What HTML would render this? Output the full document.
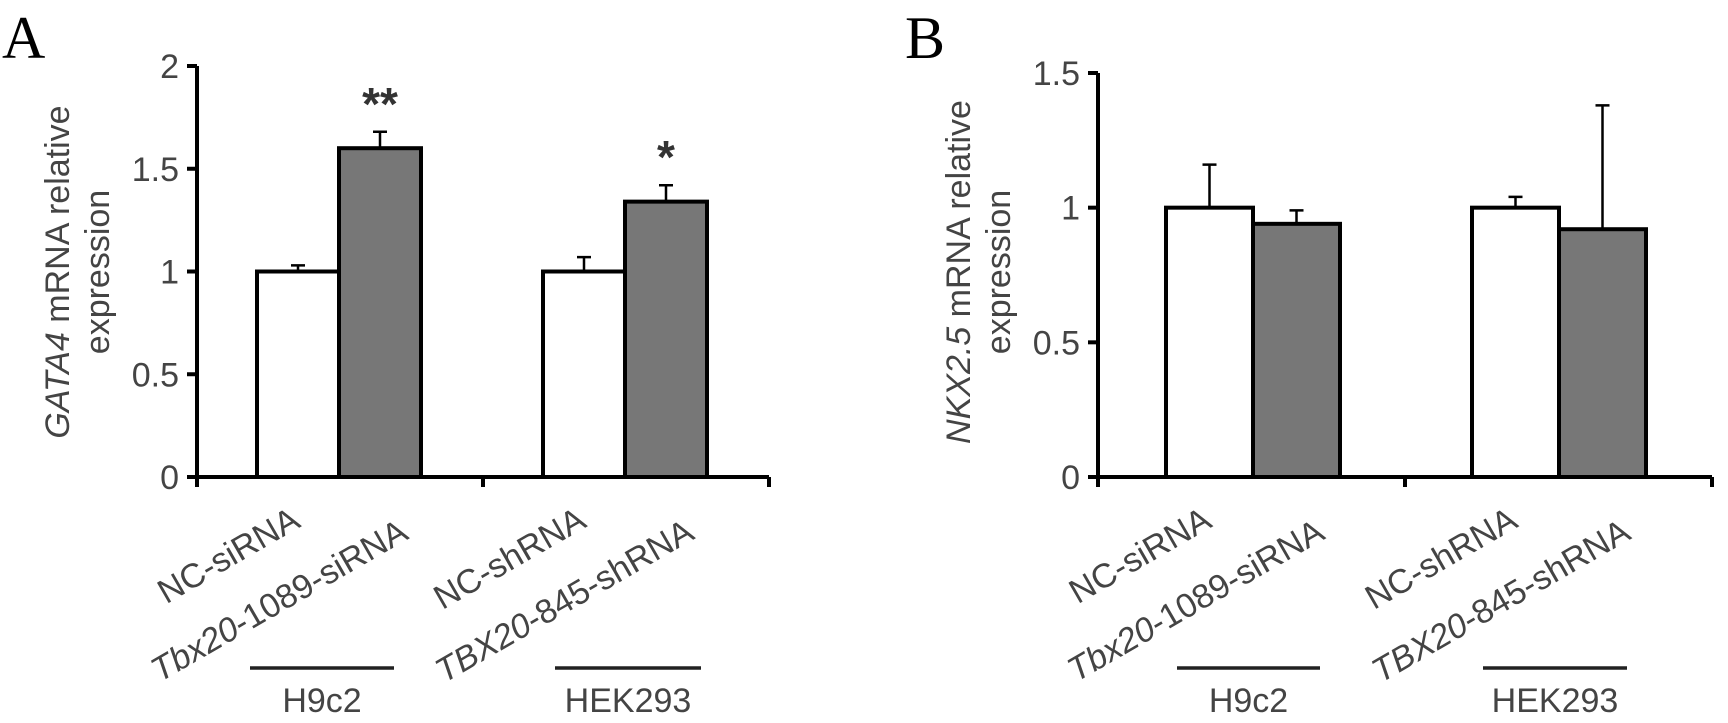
<!DOCTYPE html>
<html><head><meta charset="utf-8"><style>
html,body{margin:0;padding:0;background:#fff;}
svg{display:block;font-family:"Liberation Sans",Arial,sans-serif;}
</style></head><body>
<svg id="fig" width="1728" height="723" viewBox="0 0 1728 723" xmlns="http://www.w3.org/2000/svg">
<text x="2" y="58" font-family="Liberation Serif,serif" font-size="60" fill="#000">A</text>
<text x="905" y="58" font-family="Liberation Serif,serif" font-size="60" fill="#000">B</text>
<g id="pa"></g>
<g id="pb"></g>
</svg>
<script>
const categories = ["NC-siRNA","Tbx20-1089-siRNA","NC-shRNA","TBX20-845-shRNA"];
const italicPrefix = ["","Tbx20","","TBX20"];
const groups = ["H9c2","HEK293"];
const gataValues = [1.0, 1.60, 1.0, 1.34];
const gataErrors = [0.03, 0.08, 0.07, 0.08];
const gataStars = ["","**","","*"];
const gataTicks = [0,0.5,1,1.5,2];
const nkxValues = [1.0, 0.94, 1.0, 0.92];
const nkxErrors = [0.16, 0.05, 0.04, 0.46];
const nkxStars = ["","","",""];
const nkxTicks = [0,0.5,1,1.5];

const NS="http://www.w3.org/2000/svg";
const FS=34;
function mk(parent,tag,attrs){const e=document.createElementNS(NS,tag);for(const k in attrs)e.setAttribute(k,attrs[k]);parent.appendChild(e);return e;}

function drawPanel(g, cfg, values, errors, stars, ticks){
  const y0=477, ytop=cfg.ytop, yMax=ticks[ticks.length-1];
  const yScale=v=>y0-(v/yMax)*(y0-ytop);
  const ax=cfg.ax, bw=cfg.bw;
  const xLeft=i=>cfg.start[Math.floor(i/2)]+(i%2)*bw;
  values.forEach((v,i)=>{
    const r=mk(g,'rect',{x:xLeft(i),y:yScale(v),width:bw,height:y0-yScale(v),fill:i%2?'#777':'#fff',stroke:'#000','stroke-width':4});
    
    
    const cx=xLeft(i)+bw/2, ye=yScale(v+errors[i]);
    const e=mk(g,'path',{d:`M${cx},${yScale(v)}V${ye}M${cx-7},${ye}H${cx+7}`,stroke:'#000','stroke-width':2.5,fill:'none'});
    
    
    if(stars[i]){
      const s=mk(g,'text',{x:cx,y:ye-12,'text-anchor':'middle','font-size':46,'font-weight':'bold',fill:'#333'});
      s.textContent=stars[i];
      
      
    }
    const ex=cx+(i%2?30:4), ey=(i%2?538:526);
    const t=mk(g,'text',{x:ex,y:ey,'text-anchor':'end','font-size':FS,fill:'#444',transform:`rotate(-30 ${ex} ${ey})`});
    if(italicPrefix[i]){
      const a=mk(t,'tspan',{'font-style':'italic'});a.textContent=italicPrefix[i];
      const b=mk(t,'tspan',{});b.textContent=categories[i].slice(italicPrefix[i].length);
    } else t.textContent=categories[i];
    
    
  });
  const ya=mk(g,'path',{d:`M${ax},${ytop}V${y0+8}`,stroke:'#000','stroke-width':4,fill:'none'});
  
  
  const xa=mk(g,'path',{d:`M${ax-10},${y0}H${cfg.xend}M${ax},${y0}v10M${(ax+cfg.xend)/2},${y0}v10M${cfg.xend},${y0}v10`,stroke:'#000','stroke-width':4,fill:'none'});
  
  
  ticks.forEach(tv=>{
    const y=yScale(tv);
    mk(g,'path',{d:`M${ax-10},${y}H${ax}`,stroke:'#000','stroke-width':4});
    const t=mk(g,'text',{x:ax-18,y:y+12,'text-anchor':'end','font-size':FS,fill:'#444'});
    t.textContent=String(tv);
    
    
  });
  const tx1=cfg.titleX, tx2=cfg.titleX+40, tcy=272;
  const t1=mk(g,'text',{x:tx1,y:tcy,'text-anchor':'middle','font-size':FS,fill:'#444',transform:`rotate(-90 ${tx1} ${tcy})`});
  const it=mk(t1,'tspan',{'font-style':'italic'});it.textContent=cfg.gene;
  const rest=mk(t1,'tspan',{});rest.textContent=' mRNA relative';
  
  
  const t2=mk(g,'text',{x:tx2,y:tcy,'text-anchor':'middle','font-size':FS,fill:'#444',transform:`rotate(-90 ${tx2} ${tcy})`});
  t2.textContent='expression';
  
  
  groups.forEach((gn,k)=>{
    const [a,b]=cfg.groupLines[k];
    const l=mk(g,'path',{d:`M${a},668H${b}`,stroke:'#222','stroke-width':3.5});
    
    
    const t=mk(g,'text',{x:(a+b)/2,y:712,'text-anchor':'middle','font-size':FS,fill:'#444'});
    t.textContent=gn;
    
    
  });
}
drawPanel(document.getElementById('pa'),{ax:197,ytop:66,bw:82,start:[257,543],xend:769,titleX:69,gene:'GATA4',groupLines:[[250,394],[555,701]]},gataValues,gataErrors,gataStars,gataTicks);
drawPanel(document.getElementById('pb'),{ax:1098,ytop:73,bw:87,start:[1166,1472],xend:1712,titleX:970,gene:'NKX2.5',groupLines:[[1177,1320],[1483,1627]]},nkxValues,nkxErrors,nkxStars,nkxTicks);
</script>
</body></html>
